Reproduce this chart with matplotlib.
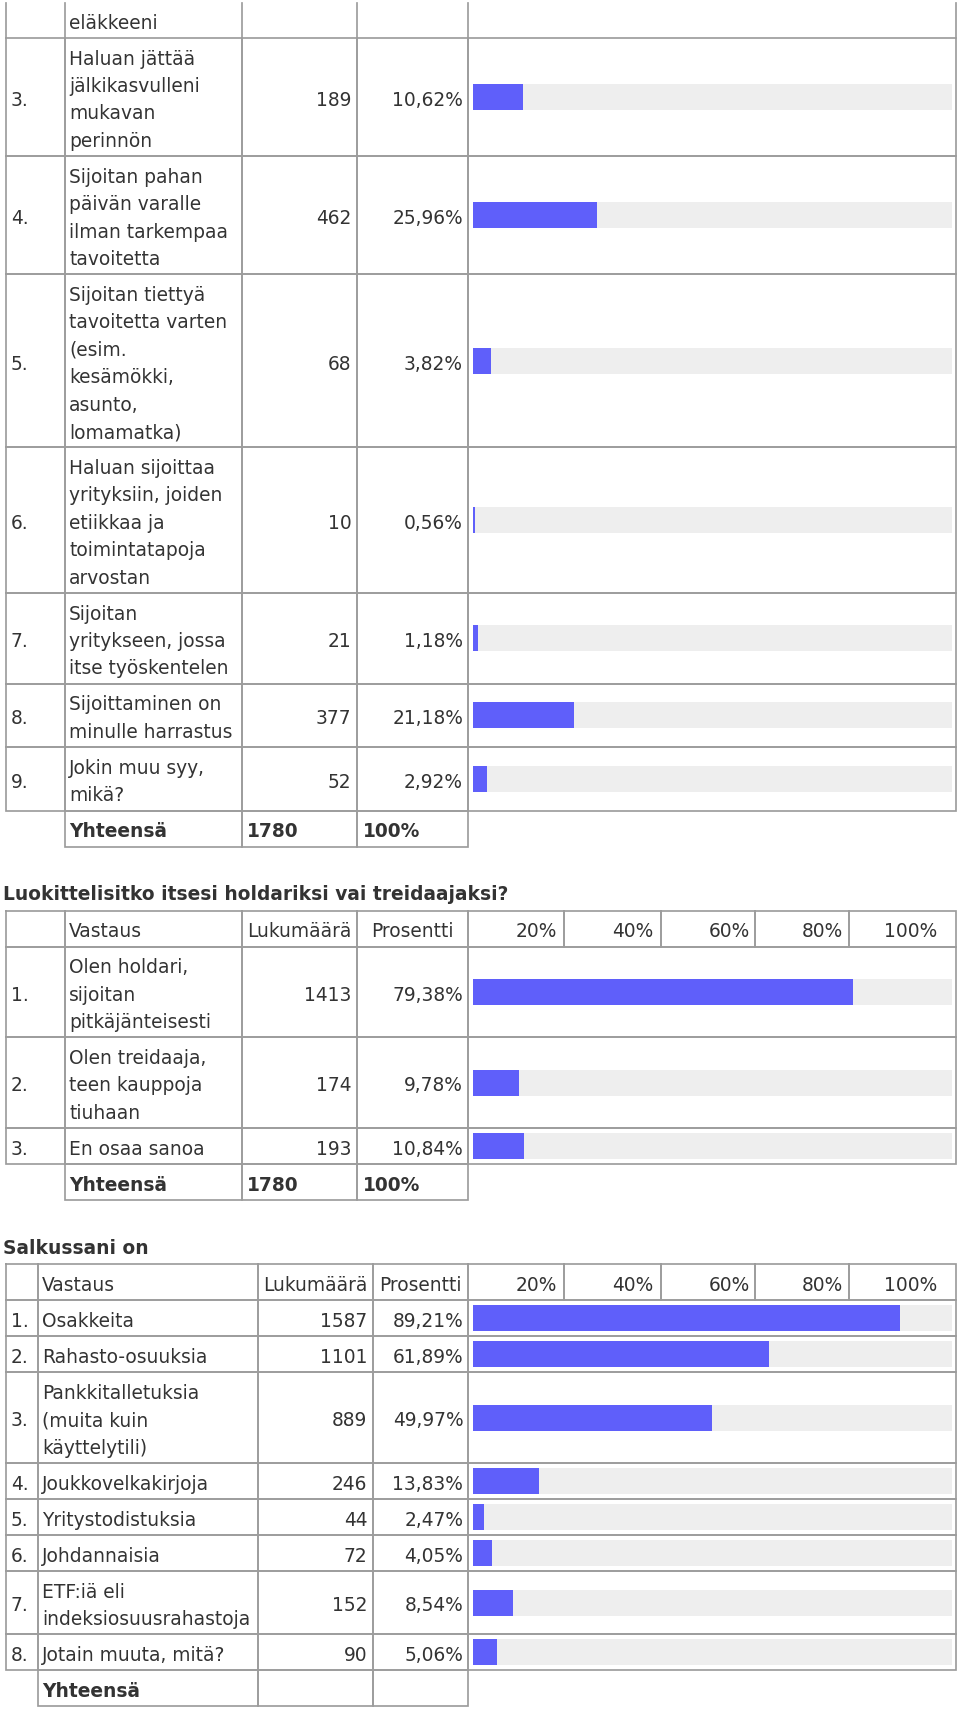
import numpy as np
from matplotlib import pyplot as plt

# question 2 (continues from the page before), rows 3..9
q1_nums = ['3.', '4.', '5.', '6.', '7.', '8.', '9.']
q1_answers = [['Haluan jättää', 'jälkikasvulleni', 'mukavan', 'perinnön'],
              ['Sijoitan pahan', 'päivän varalle', 'ilman tarkempaa', 'tavoitetta'],
              ['Sijoitan tiettyä', 'tavoitetta varten', '(esim.', 'kesämökki,', 'asunto,', 'lomamatka)'],
              ['Haluan sijoittaa', 'yrityksiin, joiden', 'etiikkaa ja', 'toimintatapoja', 'arvostan'],
              ['Sijoitan', 'yritykseen, jossa', 'itse työskentelen'],
              ['Sijoittaminen on', 'minulle harrastus'],
              ['Jokin muu syy,', 'mikä?']]
q1_counts = [189, 462, 68, 10, 21, 377, 52]
q1_pct = [10.62, 25.96, 3.82, 0.56, 1.18, 21.18, 2.92]
q1_total = '1780'

q2_title = 'Luokittelisitko itsesi holdariksi vai treidaajaksi?'
q2_nums = ['1.', '2.', '3.']
q2_answers = [['Olen holdari,', 'sijoitan', 'pitkäjänteisesti'],
              ['Olen treidaaja,', 'teen kauppoja', 'tiuhaan'],
              ['En osaa sanoa']]
q2_counts = [1413, 174, 193]
q2_pct = [79.38, 9.78, 10.84]
q2_total = '1780'

q3_title = 'Salkussani on'
q3_nums = ['1.', '2.', '3.', '4.', '5.', '6.', '7.', '8.']
q3_answers = [['Osakkeita'], ['Rahasto-osuuksia'],
              ['Pankkitalletuksia', '(muita kuin', 'käyttelytili)'],
              ['Joukkovelkakirjoja'], ['Yritystodistuksia'], ['Johdannaisia'],
              ['ETF:iä eli', 'indeksiosuusrahastoja'], ['Jotain muuta, mitä?']]
q3_counts = [1587, 1101, 889, 246, 44, 72, 152, 90]
q3_pct = [89.21, 61.89, 49.97, 13.83, 2.47, 4.05, 8.54, 5.06]
q3_total = ''

head_labels = ['Vastaus', 'Lukumäärä', 'Prosentti']
scale_labels = ['20%', '40%', '60%', '80%', '100%']

FS = 18.7 * 72 / 100.0
LW = 1.7 * 72 / 100.0
LINE_H = 27.4
PAD = 4.3
TXT = '#333333'
GRID = '#9c9c9c'
BAR = '#5f5ffa'
TRACK = '#eeeeee'

fig = plt.figure(figsize=(9.6, 17.1), dpi=100)
ax = fig.add_axes([0, 0, 1, 1])
ax.set_xlim(0, 960)
ax.set_ylim(1710, 0)
ax.axis('off')

# bar column: x in percent, y in page pixels
bx = fig.add_axes([472.5 / 960, 0, 479.5 / 960, 1])
bx.set_xlim(0, 100)
bx.set_ylim(1710, 0)
bx.axis('off')


def fmt_pct(p):
    return ('%.2f' % p).replace('.', ',') + '%'


def put(x, yc, s, ha='left', bold=False):
    ax.text(x, yc + 8.6, s, ha=ha, va='baseline', fontsize=FS, color=TXT,
            fontweight='bold' if bold else 'normal', family='DejaVu Sans')


def cell(x0, x1, y0, y1):
    ax.plot([x0, x1, x1, x0, x0], [y0, y0, y1, y1, y0], color=GRID, lw=LW,
            solid_joinstyle='miter', solid_capstyle='projecting')


def table(top, cols, nums, answers, counts, pct, total, header=True):
    y = top
    if header:
        h = LINE_H + 2 * PAD
        yc = y + h / 2
        for i in range(4):
            cell(cols[i], cols[i + 1], y, y + h)
        sub = [cols[4], 564, 661, 755, 849, cols[5]]
        lab_x = [556.7, 653, 750, 843, 937.7]
        for i in range(5):
            cell(sub[i], sub[i + 1], y, y + h)
            put(lab_x[i], yc, scale_labels[i], ha='right')
        put(cols[1] + 4, yc, head_labels[0])
        put((cols[2] + cols[3]) / 2, yc, head_labels[1], ha='center')
        put((cols[3] + cols[4]) / 2, yc, head_labels[2], ha='center')
        y += h
    centers = []
    for num, lines, c, p in zip(nums, answers, counts, pct):
        h = LINE_H * len(lines) + 2 * PAD
        yc = y + h / 2
        centers.append(yc)
        for i in range(5):
            cell(cols[i], cols[i + 1], y, y + h)
        put(11, yc, num)
        for k, s in enumerate(lines):
            put(cols[1] + 4, y + PAD + LINE_H * (k + 0.5), s)
        put(cols[3] - 5.5, yc, str(c), ha='right')
        put(cols[4] - 5, yc, fmt_pct(p), ha='right')
        y += h
    # totals row
    h = LINE_H + 2 * PAD
    yc = y + h / 2
    for i in range(1, 4):
        cell(cols[i], cols[i + 1], y, y + h)
    put(cols[1] + 4, yc, 'Yhteensä', bold=True)
    if total:
        put(cols[2] + 5, yc, total, bold=True)
        put(cols[3] + 5.7, yc, '100%', bold=True)
    y += h
    bx.barh(centers, [100] * len(centers), height=26, color=TRACK, lw=0)
    bx.barh(centers, pct, height=26, color=BAR, lw=0)
    return y


cols_a = [6, 65, 242, 357, 468, 955.5]
cols_b = [6, 38, 257.7, 372.7, 468.3, 955.5]

# tail of the row above the visible part
first = 38
for x in cols_a:
    ax.plot([x, x], [3, first], color=GRID, lw=LW)
put(cols_a[1] + 4, first - PAD - LINE_H / 2, 'eläkkeeni')

y = table(first, cols_a, q1_nums, q1_answers, q1_counts, q1_pct, q1_total, header=False)

y += 64
ax.text(3, y - 10.5, q2_title, ha='left', va='baseline', fontsize=FS, color=TXT,
        fontweight='bold', family='DejaVu Sans')
y = table(y, cols_a, q2_nums, q2_answers, q2_counts, q2_pct, q2_total)

y += 64
ax.text(3, y - 10.5, q3_title, ha='left', va='baseline', fontsize=FS, color=TXT,
        fontweight='bold', family='DejaVu Sans')
y = table(y, cols_b, q3_nums, q3_answers, q3_counts, q3_pct, q3_total)

fig.savefig('out.png', dpi=100, facecolor='white')
